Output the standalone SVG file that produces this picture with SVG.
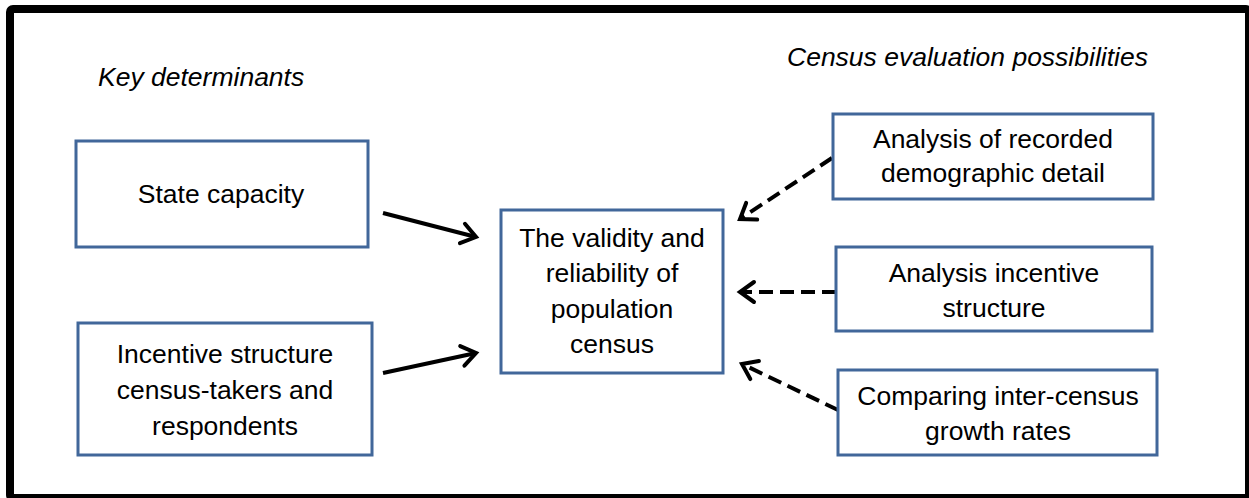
<svg xmlns="http://www.w3.org/2000/svg" width="1249" height="498" viewBox="0 0 1249 498">
<style>
.box{fill:#fff;stroke:#41679a;stroke-width:3}
.t{font-family:"Liberation Sans",Arial,sans-serif;font-size:26.5px;fill:#000;text-anchor:middle}
.h{font-family:"Liberation Sans",Arial,sans-serif;font-size:26.5px;font-style:italic;fill:#000}
.c{stroke:#000;stroke-width:4;fill:none}
.d{stroke-dasharray:14 7}
</style>
<defs>
<marker id="ah" markerUnits="userSpaceOnUse" markerWidth="30" markerHeight="30" viewBox="-20 -15 24 30" refX="0" refY="0" orient="auto">
<path d="M-14,-10 L0,0 L-14,10" fill="none" stroke="#000" stroke-width="4" stroke-linecap="round" stroke-linejoin="miter" stroke-dasharray="none"/>
</marker>
</defs>
<rect x="0" y="0" width="1249" height="498" fill="#fff"/>
<rect x="10" y="9" width="1239" height="489" rx="3" fill="none" stroke="#000" stroke-width="8"/>
<text class="h" x="98" y="86">Key determinants</text>
<text class="h" x="787" y="66">Census evaluation possibilities</text>
<g id="connectors">
<path class="c" d="M383,213 L476,237" marker-end="url(#ah)"/>
<path class="c" d="M383,373 L476,353" marker-end="url(#ah)"/>
<path class="c d" d="M832,158 L740,219" marker-end="url(#ah)"/>
<path class="c d" d="M836,292 L740,292" marker-end="url(#ah)"/>
<path class="c d" d="M838,410 L742,364" marker-end="url(#ah)"/>
</g>
<g id="state-capacity">
<rect class="box" x="76" y="141" width="292" height="106"/>
<text class="t" x="221" y="203">State capacity</text>
</g>
<g id="incentive-structure">
<rect class="box" x="78" y="323" width="294" height="132"/>
<text class="t" x="225" y="363">Incentive structure</text>
<text class="t" x="225" y="399">census-takers and</text>
<text class="t" x="225" y="435">respondents</text>
</g>
<g id="validity">
<rect class="box" x="501" y="210" width="222" height="163"/>
<text class="t" x="612" y="247">The validity and</text>
<text class="t" x="612" y="282">reliability of</text>
<text class="t" x="612" y="318">population</text>
<text class="t" x="612" y="353">census</text>
</g>
<g id="recorded-detail">
<rect class="box" x="833" y="114" width="320" height="85"/>
<text class="t" x="993" y="148">Analysis of recorded</text>
<text class="t" x="993" y="182">demographic detail</text>
</g>
<g id="analysis-incentive">
<rect class="box" x="836" y="247" width="316" height="84"/>
<text class="t" x="994" y="282">Analysis incentive</text>
<text class="t" x="994" y="317">structure</text>
</g>
<g id="inter-census">
<rect class="box" x="838" y="370" width="319" height="85"/>
<text class="t" x="998" y="405">Comparing inter-census</text>
<text class="t" x="998" y="440">growth rates</text>
</g>
</svg>
